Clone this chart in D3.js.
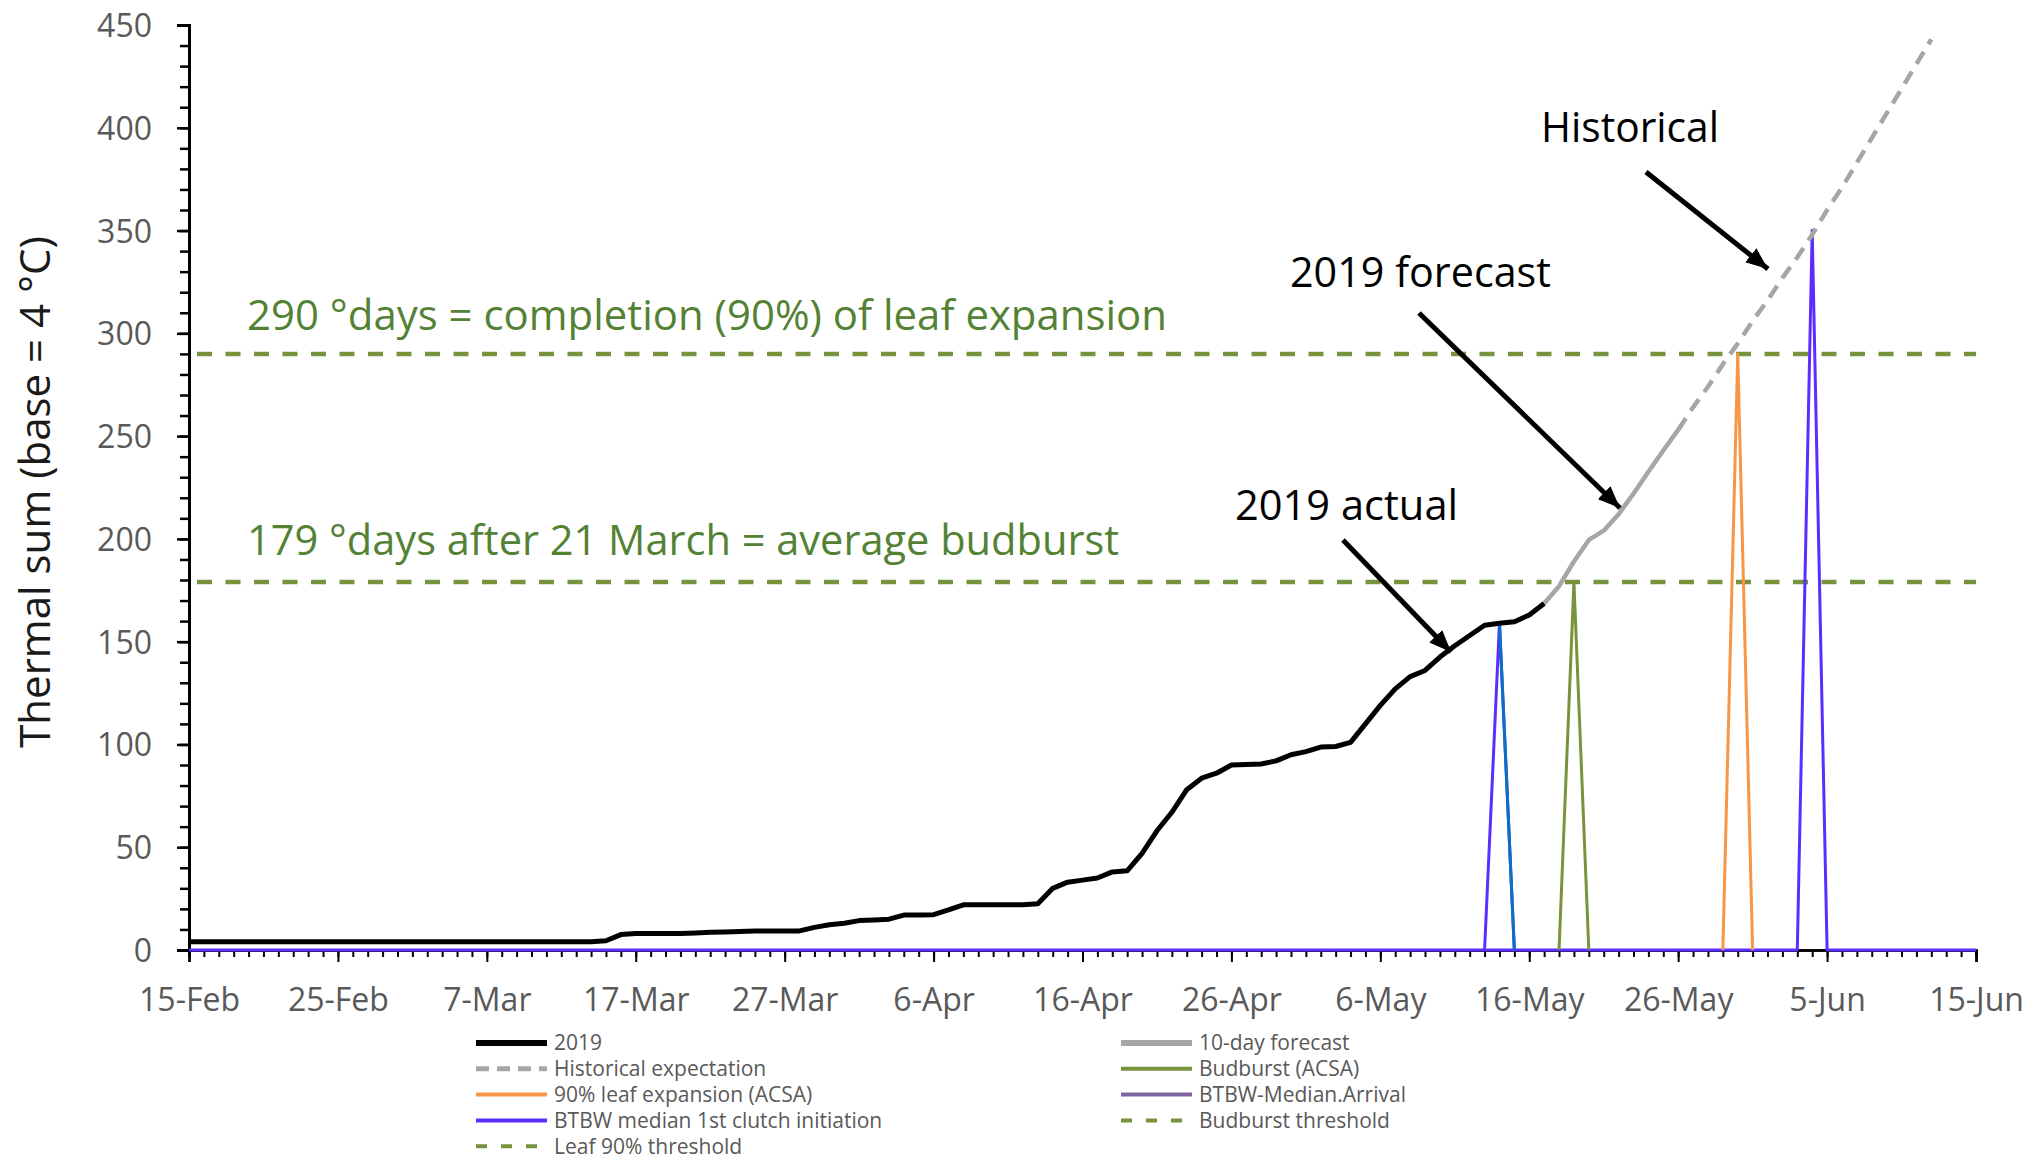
<!DOCTYPE html>
<html>
<head>
<meta charset="utf-8">
<script src="https://cdn.jsdelivr.net/npm/d3@7"></script>
<style>
  body { margin: 0; background: #fff; }
  svg text { font-family: "Open Sans", "Noto Sans", sans-serif; }
</style>
</head>
<body>
<svg id="chart"></svg>
<script>
// ---- data (thermal sums, base 4 °C) ----
// 2019 observed, one value per day starting 15-Feb
const actualStart = "2019-02-15"
const actual2019 = [
  4, 4, 4, 4, 4, 4, 4, 4, 4, 4, 4, 4, 4, 4,
  4, 4, 4, 4, 4, 4, 4, 4, 4, 4, 4, 4, 4, 4,
  4.5, 7.5, 8, 8, 8, 8, 8.3, 8.6, 8.8, 9, 9.2, 9.3, 9.3, 9.3,
  11, 12.3, 13, 14.3, 14.6, 15, 17, 17, 17.2, 19.5, 22, 22, 22, 22, 22, 22.5,
  30, 33, 34, 35, 38, 38.5, 47, 58, 67, 78, 83.6, 86, 90, 90.3, 90.5, 92,
  95, 96.5, 98.7, 99, 101, 110, 119, 127, 133, 136, 142.5, 148, 153, 158,
  159, 159.7, 163, 168.6
]
// 10-day forecast, daily from 17-May
const forecastStart = "2019-05-17"
const forecast10day = [168.6, 177, 189, 199.5, 204, 212, 222, 232.7, 243, 253]
// historical expectation, daily from 26-May
const historicalStart = "2019-05-26"
const historical = [253, 264, 274, 285, 295, 306, 316, 327, 337, 348, 360, 371, 383, 395, 407, 419, 431, 443]

// event series (zero except on the event day)
const arrivalDates = ["2019-05-13", "2019-05-14", "2019-05-15"]
const arrivalValues = [0, 159, 0]
const budburstDates = ["2019-05-18", "2019-05-19", "2019-05-20"]
const budburstValues = [0, 179, 0]
const leafDates = ["2019-05-29", "2019-05-30", "2019-05-31"]
const leafValues = [0, 290, 0]
const clutchDates = ["2019-02-15", "2019-06-03", "2019-06-04", "2019-06-05", "2019-06-15"]
const clutchValues = [0, 0, 350, 0, 0]

// thresholds
const budburstThreshold = 179
const leafThreshold = 290
const thresholdSpan = ["2019-02-15", "2019-06-15"]

// axes
const xDomain = ["2019-02-15", "2019-06-15"]
const xTickLabels = ["2019-02-15", "2019-02-25", "2019-03-07", "2019-03-17", "2019-03-27", "2019-04-06",
  "2019-04-16", "2019-04-26", "2019-05-06", "2019-05-16", "2019-05-26", "2019-06-05", "2019-06-15"]
const yMajorTicks = [0, 50, 100, 150, 200, 250, 300, 350, 400, 450]
const yTitle = "Thermal sum (base = 4 °C)"

const legendItems = [
  { name: "2019", key: "actual" },
  { name: "10-day forecast", key: "forecast" },
  { name: "Historical expectation", key: "historical" },
  { name: "Budburst (ACSA)", key: "budburst" },
  { name: "90% leaf expansion (ACSA)", key: "leaf" },
  { name: "BTBW-Median.Arrival", key: "arrivalLegend" },
  { name: "BTBW median 1st clutch initiation", key: "clutch" },
  { name: "Budburst threshold", key: "threshold" },
  { name: "Leaf 90% threshold", key: "threshold" }
]

// ---- styles ----
const styles = {
  actual: { stroke: "#000000", width: 5, legendWidth: 6 },
  forecast: { stroke: "#A6A6A6", width: 4.5, legendWidth: 6 },
  historical: { stroke: "#A6A6A6", width: 4.5, dash: "14,9", legendWidth: 5, legendDash: "13,8" },
  budburst: { stroke: "#77933C", width: 3, legendWidth: 4 },
  leaf: { stroke: "#F79646", width: 3, legendWidth: 4 },
  arrivalLegend: { stroke: "#8064A2", width: 3, legendWidth: 4 },
  arrival: { stroke: "#5B2EFF", width: 3 },
  arrivalDown: { stroke: "#0A70C4", width: 3 },
  clutch: { stroke: "#5B2EFF", width: 3, legendWidth: 4 },
  threshold: { stroke: "#77933C", width: 4.5, dash: "15,13.5", legendWidth: 4, legendDash: "11,14" }
}

const W = 2034, H = 1161
const parse = d3.utcParse("%Y-%m-%d")
const dayAfter = (start, i) => d3.utcDay.offset(parse(start), i)

const svg = d3.select("#chart").attr("width", W).attr("height", H)

const x = d3.scaleUtc().domain(xDomain.map(parse)).range([189, 1976])
const y = d3.scaleLinear().domain([0, 450]).range([950, 25])

const line = d3.line().x(d => x(d.date)).y(d => y(d.value))

const daily = (start, arr) => arr.map((v, i) => ({ date: dayAfter(start, i), value: v }))
const paired = (dates, vals) => dates.map((d, i) => ({ date: parse(d), value: vals[i] }))

// ---- axes ----
const axisColor = "#000"
const labelColor = "#595959"

// x minor ticks (daily)
const xMinor = svg.append("g").attr("transform", "translate(0,950)")
  .call(d3.axisBottom(x).ticks(d3.utcDay.every(1)).tickSize(7).tickFormat(""))
const xMajor = svg.append("g").attr("transform", "translate(0,950)")
  .call(d3.axisBottom(x).tickValues(xTickLabels.map(parse)).tickSize(12).tickFormat(d3.utcFormat("%-d-%b")))
xMajor.selectAll("text").attr("y", 61).attr("dy", null)
  .attr("font-size", 32).attr("fill", labelColor)
for (const g of [xMinor, xMajor]) {
  g.selectAll(".tick line").attr("stroke", axisColor).attr("stroke-width", 2)
  g.select(".domain").attr("stroke", axisColor).attr("stroke-width", 2.5)
}

// y minor ticks (every 10)
const yMinor = svg.append("g").attr("transform", "translate(189,0)")
  .call(d3.axisLeft(y).tickValues(d3.range(0, 451, 10)).tickSize(9).tickFormat(""))
const yMajor = svg.append("g").attr("transform", "translate(189,0)")
  .call(d3.axisLeft(y).tickValues(yMajorTicks).tickSize(12).tickPadding(25))
yMajor.selectAll("text").attr("font-size", 32).attr("fill", labelColor).attr("dy", "0.36em")
for (const g of [yMinor, yMajor]) {
  g.selectAll(".tick line").attr("stroke", axisColor).attr("stroke-width", 2.5)
  g.select(".domain").attr("stroke", axisColor).attr("stroke-width", 3)
}

svg.append("text")
  .attr("transform", "translate(50,492) rotate(-90)")
  .attr("text-anchor", "middle")
  .attr("font-size", 42)
  .attr("fill", "#1a1a1a")
  .text(yTitle)

// ---- threshold lines and labels ----
const green = "#548235"
for (const t of [leafThreshold, budburstThreshold]) {
  svg.append("path")
    .datum(thresholdSpan.map(d => ({ date: parse(d), value: t })))
    .attr("d", line)
    .attr("fill", "none")
    .attr("stroke", styles.threshold.stroke)
    .attr("stroke-width", styles.threshold.width)
    .attr("stroke-dasharray", styles.threshold.dash)
    .attr("stroke-dashoffset", -8)
}
svg.append("text").attr("x", 247).attr("y", 330)
  .attr("font-size", 42).attr("fill", green)
  .attr("textLength", 920).attr("lengthAdjust", "spacingAndGlyphs")
  .text("290 °days = completion (90%) of leaf expansion")
svg.append("text").attr("x", 247).attr("y", 555)
  .attr("font-size", 42).attr("fill", green)
  .attr("textLength", 872).attr("lengthAdjust", "spacingAndGlyphs")
  .text("179 °days after 21 March = average budburst")

// ---- series ----
const drawSeries = (data, st) => svg.append("path")
  .datum(data)
  .attr("d", line)
  .attr("fill", "none")
  .attr("stroke", st.stroke)
  .attr("stroke-width", st.width)
  .attr("stroke-linejoin", "round")
  .attr("stroke-dasharray", st.dash || null)

drawSeries(paired(clutchDates, clutchValues), styles.clutch)
drawSeries(paired(arrivalDates, arrivalValues), styles.arrival)
drawSeries(paired(arrivalDates, arrivalValues).slice(1), styles.arrivalDown)
drawSeries(paired(budburstDates, budburstValues), styles.budburst)
drawSeries(paired(leafDates, leafValues), styles.leaf)
drawSeries(daily(historicalStart, historical), styles.historical)
drawSeries(daily(forecastStart, forecast10day), styles.forecast)
drawSeries(daily(actualStart, actual2019), styles.actual)

// ---- annotations ----
svg.append("defs").append("marker")
  .attr("id", "arrow")
  .attr("markerUnits", "userSpaceOnUse")
  .attr("markerWidth", 24).attr("markerHeight", 20)
  .attr("refX", 22).attr("refY", 10)
  .attr("orient", "auto")
  .append("path").attr("d", "M0,1 L22,10 L0,19 Z").attr("fill", "#000")

const annotations = [
  { text: "Historical", x: 1541, y: 142, len: 178, from: [1646, 172], to: [1768, 269] },
  { text: "2019 forecast", x: 1290, y: 287, len: 261, from: [1419, 313], to: [1620, 508] },
  { text: "2019 actual", x: 1235, y: 520, len: 223, from: [1343, 540], to: [1451, 652] }
]
for (const a of annotations) {
  svg.append("text").attr("x", a.x).attr("y", a.y)
    .attr("font-size", 42).attr("fill", "#000")
    .attr("textLength", a.len).attr("lengthAdjust", "spacingAndGlyphs")
    .text(a.text)
  svg.append("line")
    .attr("x1", a.from[0]).attr("y1", a.from[1])
    .attr("x2", a.to[0]).attr("y2", a.to[1])
    .attr("stroke", "#000").attr("stroke-width", 5)
    .attr("marker-end", "url(#arrow)")
}

// ---- legend ----
const legend = svg.append("g")
const colX = [476, 1121]
const rowY0 = 1043, rowStep = 25.8
legendItems.forEach((item, i) => {
  const col = i % 2, row = Math.floor(i / 2)
  const st = styles[item.key]
  const gx = colX[col], gy = rowY0 + row * rowStep
  legend.append("line")
    .attr("x1", gx).attr("x2", gx + 71)
    .attr("y1", gy).attr("y2", gy)
    .attr("stroke", st.stroke)
    .attr("stroke-width", st.legendWidth)
    .attr("stroke-dasharray", st.legendDash || null)
  legend.append("text")
    .attr("x", gx + 78).attr("y", gy)
    .attr("dy", "0.35em")
    .attr("font-size", 21)
    .attr("fill", labelColor)
    .text(item.name)
})
</script>
</body>
</html>
